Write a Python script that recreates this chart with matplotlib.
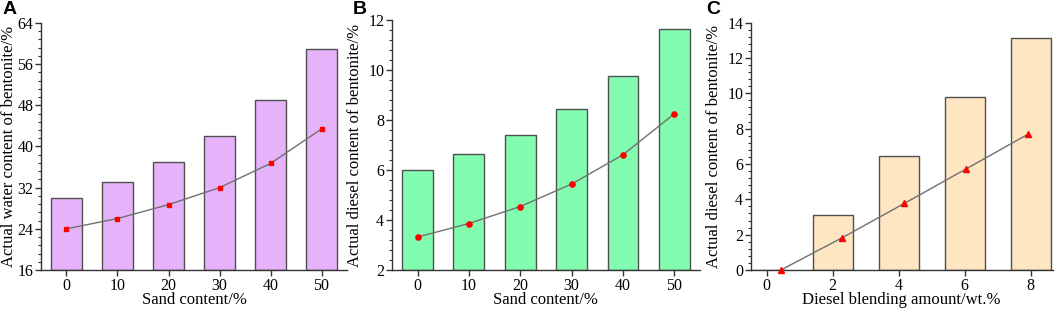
import matplotlib
matplotlib.use("Agg")
import matplotlib.pyplot as plt
from matplotlib.ticker import AutoMinorLocator, MultipleLocator

plt.rcParams['font.family'] = ['Liberation Serif', 'DejaVu Serif']
plt.rcParams['font.size'] = 10

# panel A: water content vs sand content
sand_labels = ["0", "10", "20", "30", "40", "50"]
water_bars = [30.0, 33.0, 37.0, 42.0, 49.0, 59.0]
water_line = [24.0, 26.0, 28.7, 32.0, 36.7, 43.4]

# panel B: diesel content vs sand content
diesel_bars = [6.0, 6.63, 7.42, 8.43, 9.78, 11.65]
diesel_line = [3.32, 3.86, 4.54, 5.44, 6.61, 8.25]

# panel C: diesel content vs blending amount
blend_x = [0, 2, 4, 6, 8]
blend_bars = [0.0, 3.09, 6.44, 9.78, 13.10]
blend_line_x = [0.43, 2.29, 4.17, 6.03, 7.9]
blend_line = [0.0, 1.83, 3.77, 5.71, 7.67]

EDGE = "#505050"


def style_axes(ax):
    for s in ("top", "right"):
        ax.spines[s].set_visible(False)
    for s in ("left", "bottom"):
        ax.spines[s].set_color("#333333")
        ax.spines[s].set_linewidth(1.0)
    ax.tick_params(which="major", direction="out", length=4, width=1, colors="#333333",
                   labelcolor="black", labelsize=11.5, pad=1.5)
    ax.tick_params(which="minor", direction="out", length=2, width=0.8, colors="#333333")
    ax.yaxis.set_minor_locator(AutoMinorLocator(5))


fig = plt.figure(figsize=(10.59, 3.12), dpi=100)

# ---- A
axA = fig.add_axes([0.0387, 0.1346, 0.289, 0.792])
idx = list(range(len(sand_labels)))
axA.bar(idx, [v - 16 for v in water_bars], bottom=16, width=0.6, color="#E6B3FB",
        edgecolor=EDGE, linewidth=1.0, zorder=2)
axA.plot(idx, water_line, color="#707070", lw=1.0, marker="s", ms=3.5,
         mfc="#FF0000", mec="#FF0000", zorder=3)
axA.set_xlim(-0.5, 5.5)
axA.set_ylim(16, 64)
axA.yaxis.set_major_locator(MultipleLocator(8))
axA.set_xticks(idx)
axA.set_xticklabels(sand_labels)
axA.set_xlabel("Sand content/%", fontsize=12, labelpad=-1)
axA.set_ylabel("Actual water content of bentonite/%", fontsize=12, labelpad=0)
style_axes(axA)

# ---- B
axB = fig.add_axes([0.370, 0.1346, 0.291, 0.801])
axB.bar(idx, [v - 2 for v in diesel_bars], bottom=2, width=0.6, color="#82FDB0",
        edgecolor=EDGE, linewidth=1.0, zorder=2)
axB.plot(idx, diesel_line, color="#707070", lw=1.0, marker="o", ms=3.8,
         mfc="#FF0000", mec="#FF0000", zorder=3)
axB.set_xlim(-0.5, 5.5)
axB.set_ylim(2, 12)
axB.yaxis.set_major_locator(MultipleLocator(2))
axB.set_xticks(idx)
axB.set_xticklabels(sand_labels)
axB.set_xlabel("Sand content/%", fontsize=12, labelpad=-1)
axB.set_ylabel("Actual diesel content of bentonite/%", fontsize=12, labelpad=4)
style_axes(axB)

# ---- C
axC = fig.add_axes([0.709, 0.1346, 0.285, 0.793])
axC.bar(blend_x, blend_bars, width=1.2, color="#FDE6C1",
        edgecolor=EDGE, linewidth=1.0, zorder=2)
axC.plot(blend_line_x, blend_line, color="#707070", lw=1.0, marker="^", ms=4.5,
         mfc="#FF0000", mec="#FF0000", zorder=3, clip_on=False)
axC.set_xlim(-0.48, 8.66)
axC.set_ylim(0, 14)
axC.yaxis.set_major_locator(MultipleLocator(2))
axC.set_xticks(blend_x)
axC.set_xlabel("Diesel blending amount/wt.%", fontsize=12, labelpad=-1)
axC.set_ylabel("Actual diesel content of bentonite/%", fontsize=12, labelpad=4)
style_axes(axC)

# panel letters
for x, letter in [(0.002, "A"), (0.333, "B"), (0.667, "C")]:
    fig.text(x, 0.998, letter, ha="left", va="top", fontsize=14, fontweight="bold",
             family="Liberation Sans")

fig.savefig("out.png", dpi=100)
